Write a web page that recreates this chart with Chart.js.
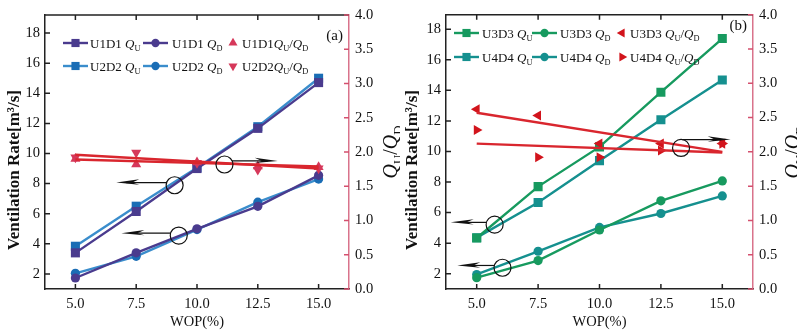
<!DOCTYPE html>
<html>
<head>
<meta charset="utf-8">
<script src="https://cdn.jsdelivr.net/npm/chart.js@4"></script>
<style>
  html, body { margin: 0; padding: 0; background: #fff; }
  #wrap { position: relative; width: 797px; height: 334px; overflow: hidden; }
  canvas { position: absolute; top: 0; }
</style>
</head>
<body>
<div id="wrap">
  <canvas id="chartA" width="400" height="334" style="left:0;width:400px;height:334px"></canvas>
  <canvas id="chartB" width="397" height="334" style="left:400px;width:397px;height:334px"></canvas>
</div>
<script>
// WOP values and axis ticks
const wop = [5, 7.5, 10, 12.5, 15];
const fitEnds = [5, 15];
const wopTicks = [5, 7.5, 10, 12.5, 15];
const rateTicks = [2, 4, 6, 8, 10, 12, 14, 16, 18];
const ratioTicks = [0, 0.5, 1, 1.5, 2, 2.5, 3, 3.5, 4];

// (a) ventilation rates [m3/s]
const u1d1Qu = [3.4, 6.15, 9.0, 11.67, 14.71];
const u2d2Qu = [3.84, 6.5, 9.05, 11.78, 15.0];
const u1d1Qd = [1.73, 3.4, 5.0, 6.49, 8.55];
const u2d2Qd = [2.04, 3.17, 4.95, 6.77, 8.3];
// (a) QU/QD ratios and their linear fits (values at WOP 5 and 15)
const u1d1Ratio = [1.9, 1.82, 1.85, 1.79, 1.78];
const u2d2Ratio = [1.92, 1.99, 1.84, 1.74, 1.76];
const u1d1Fit = [1.89, 1.79];
const u2d2Fit = [1.96, 1.76];

// (b) ventilation rates [m3/s]
const u3d3Qu = [4.34, 7.7, 10.3, 13.88, 17.39];
const u4d4Qu = [4.36, 6.66, 9.4, 12.08, 14.68];
const u3d3Qd = [1.74, 2.86, 4.86, 6.77, 8.07];
const u4d4Qd = [1.95, 3.47, 5.03, 5.94, 7.09];
// (b) QU/QD ratios and their linear fits
const u3d3Ratio = [2.62, 2.53, 2.12, 2.12, 2.12];
const u4d4Ratio = [2.32, 1.92, 1.92, 2.02, 2.12];
const u3d3Fit = [2.57, 2.0];
const u4d4Fit = [2.12, 1.99];

const serif = '"Liberation Serif", "Times New Roman", serif';
const pink = '#d9738b';

function pts(xs, ys) {
    return xs.map((x, i) => ({ x: x, y: ys[i] }));
}

function rateSet(label, values, line, marker, style, radius) {
    return {
        label: label,
        data: pts(wop, values),
        yAxisID: 'y',
        borderColor: line,
        backgroundColor: marker,
        pointBackgroundColor: marker,
        pointBorderColor: marker,
        pointBorderWidth: 0,
        pointStyle: style,
        pointRadius: radius,
        borderWidth: 2.4,
        order: 3
    };
}

function ratioSet(label, values, color, rotation) {
    return {
        label: label,
        data: pts(wop, values),
        yAxisID: 'y1',
        showLine: false,
        pointStyle: 'triangle',
        pointRotation: rotation,
        pointRadius: 5.8,
        pointBackgroundColor: color,
        pointBorderColor: color,
        pointBorderWidth: 0,
        order: 2
    };
}

function fitSet(values, color) {
    return {
        data: pts(fitEnds, values),
        yAxisID: 'y1',
        borderColor: color,
        borderWidth: 2.4,
        pointRadius: 0,
        order: 1
    };
}

// text made of plain, italic and subscript runs; y is the baseline
function drawRich(ctx, parts, x, y, size, align) {
    const fonts = parts.map(p => p[1] === 'i' ? 'italic ' + size + 'px ' + serif
        : p[1] === 'sub' ? (size * 0.64) + 'px ' + serif
        : size + 'px ' + serif);
    const widths = parts.map((p, i) => { ctx.font = fonts[i]; return ctx.measureText(p[0]).width; });
    const total = widths.reduce((a, b) => a + b, 0);
    let cx = align === 'center' ? x - total / 2 : x;
    ctx.textAlign = 'left';
    ctx.textBaseline = 'alphabetic';
    parts.forEach((p, i) => {
        ctx.font = fonts[i];
        ctx.fillText(p[0], cx, p[1] === 'sub' ? y + size * 0.24 : y);
        cx += widths[i];
    });
}

function makeScales(rateMax, leftW, rightW) {
    const tickFont = { family: serif, size: 14.5 };
    return {
        x: {
            type: 'linear', min: 3.75, max: 16.25,
            afterBuildTicks: s => { s.ticks = wopTicks.map(v => ({ value: v })); },
            afterFit: s => { s.height = 45; },
            grid: { display: false, drawTicks: false },
            border: { display: true, color: '#222', width: 1.5 },
            ticks: { color: '#111', font: tickFont, padding: 6, autoSkip: false, maxRotation: 0,
                callback: v => v.toFixed(1) }
        },
        y: {
            type: 'linear', position: 'left', min: 1, max: rateMax,
            afterBuildTicks: s => { s.ticks = rateTicks.map(v => ({ value: v })); },
            afterFit: s => { s.width = leftW; },
            grid: { display: false, drawTicks: false },
            border: { display: true, color: '#222', width: 1.5 },
            ticks: { color: '#111', font: tickFont, padding: 5 }
        },
        y1: {
            type: 'linear', position: 'right', min: 0, max: 4,
            afterBuildTicks: s => { s.ticks = ratioTicks.map(v => ({ value: v })); },
            afterFit: s => { s.width = rightW; },
            grid: { display: false, drawTicks: false },
            border: { display: true, color: pink, width: 1.5 },
            ticks: { color: '#111', font: tickFont, padding: 6, callback: v => v.toFixed(1) }
        }
    };
}

// frame, inward ticks, titles, legend and callouts
function decorations(cfg) {
    return {
        id: 'decor',
        afterDraw(chart) {
            const { ctx, chartArea: a, scales } = chart;
            ctx.save();

            ctx.lineWidth = 1.5;
            ctx.strokeStyle = '#222';
            ctx.beginPath();
            ctx.moveTo(a.left, a.top);
            ctx.lineTo(a.right, a.top);
            wopTicks.forEach(v => {
                const px = scales.x.getPixelForValue(v);
                ctx.moveTo(px, a.bottom); ctx.lineTo(px, a.bottom - 5);
                ctx.moveTo(px, a.top); ctx.lineTo(px, a.top + 5);
            });
            rateTicks.forEach(v => {
                const py = scales.y.getPixelForValue(v);
                ctx.moveTo(a.left, py); ctx.lineTo(a.left + 5, py);
            });
            ctx.stroke();
            ctx.strokeStyle = '#d4506e';
            ctx.beginPath();
            ratioTicks.forEach(v => {
                const py = scales.y1.getPixelForValue(v);
                ctx.moveTo(a.right, py); ctx.lineTo(a.right - 5, py);
            });
            ctx.stroke();

            // axis titles
            ctx.fillStyle = '#111';
            ctx.save();
            ctx.translate(cfg.leftTitleX, 170);
            ctx.rotate(-Math.PI / 2);
            ctx.font = 'bold 17px ' + serif;
            ctx.textAlign = 'center';
            ctx.textBaseline = 'middle';
            ctx.fillText('Ventilation Rate[m\u00b3/s]', 0, 0);
            ctx.restore();

            ctx.save();
            ctx.translate(cfg.rightTitleX, 152);
            ctx.rotate(-Math.PI / 2);
            drawRich(ctx, [['Q', 'i'], ['U', 'sub'], ['/', ''], ['Q', 'i'], ['D', 'sub']], 0, 6, 20, 'center');
            ctx.restore();

            ctx.font = '14.5px ' + serif;
            ctx.textAlign = 'center';
            ctx.textBaseline = 'middle';
            ctx.fillText('WOP(%)', (a.left + a.right) / 2, 322);

            ctx.font = '15px ' + serif;
            ctx.textAlign = 'right';
            ctx.textBaseline = 'alphabetic';
            ctx.fillText(cfg.tag, cfg.tagX, cfg.tagY);

            // legend
            cfg.legend.forEach(item => {
                const ds = chart.data.datasets[item.ds];
                const y = cfg.legendRows[item.row];
                const x0 = cfg.legendCols[item.col];
                if (item.col < 2) {
                    ctx.strokeStyle = ds.borderColor;
                    ctx.lineWidth = ds.borderWidth;
                    ctx.beginPath();
                    ctx.moveTo(x0, y); ctx.lineTo(x0 + 25, y);
                    ctx.stroke();
                }
                ctx.fillStyle = ds.pointBackgroundColor;
                Chart.helpers.drawPoint(ctx, {
                    pointStyle: ds.pointStyle, radius: ds.pointRadius * 0.9,
                    rotation: ds.pointRotation || 0, borderWidth: 0
                }, item.col < 2 ? x0 + 12.5 : x0, y);
                ctx.fillStyle = '#111';
                drawRich(ctx, item.text, cfg.legendText[item.col], y + 4.5, 13, 'left');
            });

            // circled groups with arrows toward their axis
            ctx.strokeStyle = '#111';
            ctx.fillStyle = '#111';
            ctx.lineWidth = 1.2;
            cfg.callouts.forEach(c => {
                const cx = scales.x.getPixelForValue(c.x);
                const cy = scales.y.getPixelForValue(c.y);
                const ay = scales.y.getPixelForValue(c.arrowY);
                const tx = scales.x.getPixelForValue(c.tip);
                const r = 8.5;
                const dir = tx < cx ? 1 : -1;
                const dy = ay - cy;
                const sx = cx - dir * Math.sqrt(Math.max(r * r - dy * dy, 0));
                ctx.beginPath();
                ctx.arc(cx, cy, r, 0, Math.PI * 2);
                ctx.stroke();
                ctx.beginPath();
                ctx.moveTo(sx, ay); ctx.lineTo(tx + dir * 10, ay);
                ctx.stroke();
                ctx.beginPath();
                ctx.moveTo(tx, ay);
                ctx.lineTo(tx + dir * 23, ay - 3.2);
                ctx.lineTo(tx + dir * 16, ay);
                ctx.lineTo(tx + dir * 23, ay + 2.2);
                ctx.closePath();
                ctx.fill();
            });
            ctx.restore();
        }
    };
}

function qLabel(name, sep, ratio) {
    const parts = [[name + sep, ''], ['Q', 'i'], ['U', 'sub']];
    if (ratio) parts.push(['/', ''], ['Q', 'i'], ['D', 'sub']);
    return parts;
}

function build(id, datasets, scales, padTop, cfg) {
    return new Chart(document.getElementById(id), {
        type: 'line',
        data: { datasets: datasets },
        options: {
            responsive: false,
            animation: false,
            events: [],
            layout: { padding: { top: padTop, left: 0, right: 0, bottom: 0 } },
            plugins: { legend: { display: false }, tooltip: { enabled: false } },
            scales: scales
        },
        plugins: [decorations(cfg)]
    });
}

const purple = '#4a3b8e';
const blueLine = '#3a8dcc';
const blueMark = '#1a6db5';
const crimson = '#d6385a';
const fitRed = '#d9262e';

build('chartA', [
    rateSet('U1D1 QU', u1d1Qu, purple, purple, 'rect', 6.4),
    rateSet('U2D2 QU', u2d2Qu, blueLine, blueMark, 'rect', 6.4),
    rateSet('U1D1 QD', u1d1Qd, purple, purple, 'circle', 4.6),
    rateSet('U2D2 QD', u2d2Qd, blueLine, blueMark, 'circle', 4.6),
    ratioSet('U1D1 QU/QD', u1d1Ratio, crimson, 0),
    ratioSet('U2D2 QU/QD', u2d2Ratio, crimson, 180),
    fitSet(u1d1Fit, fitRed),
    fitSet(u2d2Fit, fitRed)
], makeScales(19.2, 45, 51), 15, {
    leftTitleX: 15, rightTitleX: 391, tag: '(a)', tagX: 343, tagY: 40,
    legendRows: [43, 66], legendCols: [63, 143, 233], legendText: [90, 172, 242],
    legend: [
        { ds: 0, row: 0, col: 0, text: qLabel('U1D1', ' ', false) },
        { ds: 2, row: 0, col: 1, text: [['U1D1 ', ''], ['Q', 'i'], ['D', 'sub']] },
        { ds: 4, row: 0, col: 2, text: qLabel('U1D1', '', true) },
        { ds: 1, row: 1, col: 0, text: qLabel('U2D2', ' ', false) },
        { ds: 3, row: 1, col: 1, text: [['U2D2 ', ''], ['Q', 'i'], ['D', 'sub']] },
        { ds: 5, row: 1, col: 2, text: qLabel('U2D2', '', true) }
    ],
    callouts: [
        { x: 9.08, y: 7.89, arrowY: 8.07, tip: 6.68 },
        { x: 9.25, y: 4.55, arrowY: 4.71, tip: 6.89 },
        { x: 11.13, y: 9.27, arrowY: 9.51, tip: 13.32 }
    ]
});

const green = '#179a5f';
const teal = '#15908f';
const red = '#d2141c';

build('chartB', [
    rateSet('U3D3 QU', u3d3Qu, green, green, 'rect', 6.4),
    rateSet('U4D4 QU', u4d4Qu, teal, teal, 'rect', 6.4),
    rateSet('U3D3 QD', u3d3Qd, green, green, 'circle', 4.6),
    rateSet('U4D4 QD', u4d4Qd, teal, teal, 'circle', 4.6),
    ratioSet('U3D3 QU/QD', u3d3Ratio, red, 270),
    ratioSet('U4D4 QU/QD', u4d4Ratio, red, 90),
    fitSet(u3d3Fit, fitRed),
    fitSet(u4d4Fit, fitRed)
], makeScales(18.95, 46, 44), 13, {
    leftTitleX: 13, rightTitleX: 393, tag: '(b)', tagX: 347, tagY: 30,
    legendRows: [33, 57], legendCols: [54, 132, 222], legendText: [82, 160, 230],
    legend: [
        { ds: 0, row: 0, col: 0, text: qLabel('U3D3', ' ', false) },
        { ds: 2, row: 0, col: 1, text: [['U3D3 ', ''], ['Q', 'i'], ['D', 'sub']] },
        { ds: 4, row: 0, col: 2, text: qLabel('U3D3', ' ', true) },
        { ds: 1, row: 1, col: 0, text: qLabel('U4D4', ' ', false) },
        { ds: 3, row: 1, col: 1, text: [['U4D4 ', ''], ['Q', 'i'], ['D', 'sub']] },
        { ds: 5, row: 1, col: 2, text: qLabel('U4D4', ' ', true) }
    ],
    callouts: [
        { x: 5.73, y: 5.21, arrowY: 5.36, tip: 3.94 },
        { x: 6.05, y: 2.39, arrowY: 2.54, tip: 4.21 },
        { x: 13.32, y: 10.23, arrowY: 10.78, tip: 15.34 }
    ]
});
</script>
</body>
</html>
